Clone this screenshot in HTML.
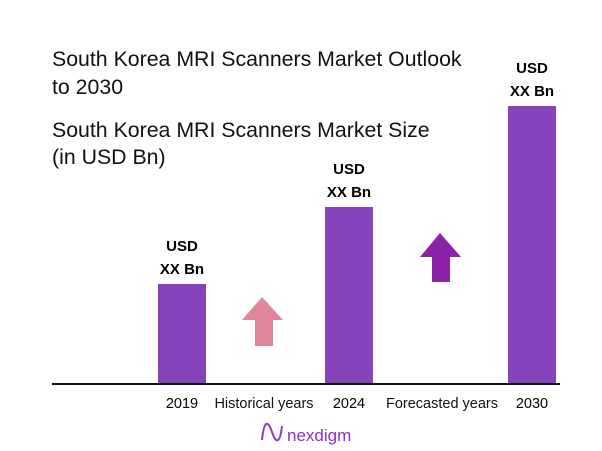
<!DOCTYPE html>
<html><head><meta charset="utf-8"><style>
body{margin:0;width:602px;height:451px;background:#fff;overflow:hidden;font-family:"Liberation Sans",sans-serif;}
svg{position:absolute;left:0;top:0}
</style></head><body>
<svg width="602" height="451">
<text x="52" y="66" font-size="21.3" fill="#111">South Korea MRI Scanners Market Outlook</text>
<text x="52" y="94" font-size="21.3" fill="#111">to 2030</text>
<text x="52" y="137" font-size="21.3" fill="#111">South Korea MRI Scanners Market Size</text>
<text x="52" y="164" font-size="21.3" fill="#111">(in USD Bn)</text>
<g id="bars"></g>
<line x1="52" y1="384" x2="560" y2="384" stroke="#111" stroke-width="2"/>
<polygon points="262,297 283,320 273,320 273,346 255,346 255,320 242,320" fill="#e0879e"/>
<polygon points="440,233 461,257 450,257 450,282 432,282 432,257 420,257" fill="#8c22a8"/>
<text x="264" y="408" font-size="14.5" text-anchor="middle" fill="#111">Historical years</text>
<text x="442" y="408" font-size="14.5" text-anchor="middle" fill="#111">Forecasted years</text>
<g>
<path d="M262,440 C264,420 268,420 272,432 C276,444 280,444 282,426" fill="none" stroke="#8a3cc8" stroke-width="2"/>
<text x="287" y="441" font-size="17" fill="#8a2fd0">nexdigm</text>
</g>
</svg>
<script>
const categories=["2019","2024","2030"];
const values=[100,177,278];
const valueLabels=["XX Bn","XX Bn","XX Bn"];
const g=document.getElementById('bars');
const ns="http://www.w3.org/2000/svg";
const xs={"2019":182,"2024":349,"2030":532};
const base=384, scale=1.0;
function y(v){return base-v*scale;}
categories.forEach((c,i)=>{
 const r=document.createElementNS(ns,'rect');
 r.setAttribute('x',xs[c]-24);r.setAttribute('width',48);
 r.setAttribute('y',y(values[i]));r.setAttribute('height',base-y(values[i]));
 r.setAttribute('fill','#8743bb');
 
 
 g.appendChild(r);
 const t1=document.createElementNS(ns,'text');
 t1.setAttribute('x',xs[c]);t1.setAttribute('y',y(values[i])-33);
 t1.setAttribute('text-anchor','middle');t1.setAttribute('font-size','15');t1.setAttribute('font-weight','bold');
 t1.textContent='USD';
 
 
 g.appendChild(t1);
 const t2=document.createElementNS(ns,'text');
 t2.setAttribute('x',xs[c]);t2.setAttribute('y',y(values[i])-10);
 t2.setAttribute('text-anchor','middle');t2.setAttribute('font-size','15');t2.setAttribute('font-weight','bold');
 t2.textContent=valueLabels[i];
 
 
 g.appendChild(t2);
 const t3=document.createElementNS(ns,'text');
 t3.setAttribute('x',xs[c]);t3.setAttribute('y',408);
 t3.setAttribute('text-anchor','middle');t3.setAttribute('font-size','14.5');
 t3.textContent=c;
 
 
 g.appendChild(t3);
});
</script>
</body></html>
